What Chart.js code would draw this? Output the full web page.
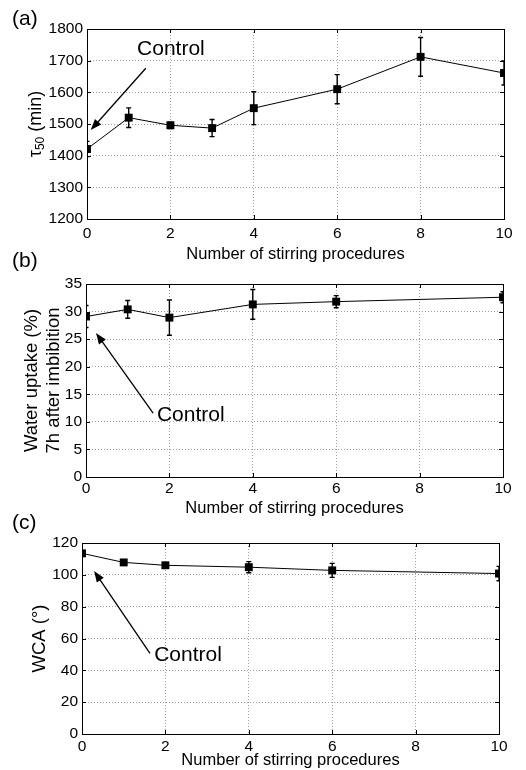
<!DOCTYPE html>
<html>
<head>
<meta charset="utf-8">
<script src="https://cdn.jsdelivr.net/npm/chart.js@4.4.1/dist/chart.umd.min.js"></script>
<style>
  html, body { margin: 0; padding: 0; background: #fff; }
  #wrap { position: relative; width: 526px; height: 770px; }
  .pane { position: absolute; left: 0; width: 526px; }
</style>
</head>
<body>
<div id="wrap">
  <div class="pane" style="top:0px"><canvas id="chartA" width="526" height="270"></canvas></div>
  <div class="pane" style="top:245px"><canvas id="chartB" width="526" height="275"></canvas></div>
  <div class="pane" style="top:505px"><canvas id="chartC" width="526" height="265"></canvas></div>
</div>
<script>
// (a) germination time tau50
const stirA = [0, 1, 2, 3, 4, 6, 8, 10];
const tau50 = [1421, 1520, 1496, 1487, 1550, 1610, 1712, 1661];
const tau50Err = [24, 31, 10, 27, 52, 46, 61, 38];

// (b) water uptake 7h after imbibition
const stirB = [0, 1, 2, 4, 6, 10];
const uptake = [29.1, 30.4, 28.9, 31.3, 31.8, 32.6];
const uptakeErr = [2.0, 1.6, 3.2, 2.7, 1.1, 1.0];

// (c) water contact angle
const stirC = [0, 1, 2, 4, 6, 10];
const wca = [113.5, 107.8, 106, 104.8, 102.8, 100.8];
const wcaErr = [1.5, 1.5, 1.2, 3.5, 4.4, 4.5];

const xTitle = 'Number of stirring procedures';
const FONT = "'Liberation Sans', Arial, Helvetica, sans-serif";

// error bars, drawn under the markers
const errorBars = {
  id: 'errorBars',
  beforeDatasetsDraw(chart, args, opts) {
    const { ctx, chartArea: a, scales: { x, y } } = chart;
    ctx.save();
    ctx.beginPath();
    ctx.rect(a.left, a.top, a.right - a.left, a.bottom - a.top);
    ctx.clip();
    ctx.strokeStyle = '#000';
    ctx.lineWidth = 1.4;
    opts.xs.forEach((xv, i) => {
      const px = x.getPixelForValue(xv);
      const lo = y.getPixelForValue(opts.ys[i] - opts.errs[i]);
      const hi = y.getPixelForValue(opts.ys[i] + opts.errs[i]);
      ctx.beginPath();
      ctx.moveTo(px, lo); ctx.lineTo(px, hi);
      ctx.moveTo(px - 2.5, lo); ctx.lineTo(px + 2.5, lo);
      ctx.moveTo(px - 2.5, hi); ctx.lineTo(px + 2.5, hi);
      ctx.stroke();
    });
    ctx.restore();
  }
};

// box frame with inward ticks, "Control" arrow, panel letter
const decor = {
  id: 'decor',
  afterDatasetsDraw(chart, args, opts) {
    const { ctx, chartArea: a, scales: { x, y } } = chart;
    ctx.save();
    ctx.strokeStyle = '#000';
    ctx.lineWidth = 1;
    ctx.strokeRect(Math.round(a.left) + 0.5, Math.round(a.top) + 0.5,
      Math.round(a.right - a.left), Math.round(a.bottom - a.top));
    ctx.beginPath();
    x.ticks.forEach(t => {
      const p = Math.round(x.getPixelForValue(t.value)) + 0.5;
      ctx.moveTo(p, a.bottom); ctx.lineTo(p, a.bottom - 4);
      ctx.moveTo(p, a.top); ctx.lineTo(p, a.top + 4);
    });
    y.ticks.forEach(t => {
      const p = Math.round(y.getPixelForValue(t.value)) + 0.5;
      ctx.moveTo(a.left, p); ctx.lineTo(a.left + 4, p);
      ctx.moveTo(a.right, p); ctx.lineTo(a.right - 4, p);
    });
    ctx.stroke();

    // arrow
    const x1 = x.getPixelForValue(opts.from[0]), y1 = y.getPixelForValue(opts.from[1]);
    const x2 = x.getPixelForValue(opts.to[0]), y2 = y.getPixelForValue(opts.to[1]);
    const ang = Math.atan2(y2 - y1, x2 - x1);
    const head = 11, half = 4.2;
    ctx.lineWidth = 1.3;
    ctx.beginPath();
    ctx.moveTo(x1, y1);
    ctx.lineTo(x2 - Math.cos(ang) * head * 0.8, y2 - Math.sin(ang) * head * 0.8);
    ctx.stroke();
    ctx.fillStyle = '#000';
    ctx.beginPath();
    ctx.moveTo(x2, y2);
    ctx.lineTo(x2 - Math.cos(ang) * head - Math.sin(ang) * half, y2 - Math.sin(ang) * head + Math.cos(ang) * half);
    ctx.lineTo(x2 - Math.cos(ang) * head + Math.sin(ang) * half, y2 - Math.sin(ang) * head - Math.cos(ang) * half);
    ctx.closePath();
    ctx.fill();

    ctx.font = '21px ' + FONT;
    ctx.textAlign = 'left';
    ctx.textBaseline = 'middle';
    ctx.fillText('Control', x.getPixelForValue(opts.text[0]), y.getPixelForValue(opts.text[1]));

    ctx.fillText(opts.letter, 12, opts.letterY);

    // y title with real subscript (panel a only)
    if (opts.tauTitle) {
      const cy = (a.top + a.bottom) / 2;
      ctx.translate(35, cy);
      ctx.rotate(-Math.PI / 2);
      ctx.textBaseline = 'alphabetic';
      ctx.font = '18px ' + FONT;
      const w1 = ctx.measureText('τ').width;
      const w3 = ctx.measureText(' (min)').width;
      ctx.font = '12px ' + FONT;
      const w2 = ctx.measureText('50').width;
      let sx = -(w1 + w2 + w3) / 2;
      ctx.font = '18px ' + FONT;
      ctx.fillText('τ', sx, 6);
      ctx.font = '12px ' + FONT;
      ctx.fillText('50', sx + w1, 9);
      ctx.font = '18px ' + FONT;
      ctx.fillText(' (min)', sx + w1 + w2, 6);
    }
    ctx.restore();
  }
};

function makePanel(id, p) {
  return new Chart(document.getElementById(id), {
    type: 'line',
    data: {
      datasets: [{
        data: p.xs.map((v, i) => ({ x: v, y: p.ys[i] })),
        borderColor: '#000',
        borderWidth: 1,
        backgroundColor: '#000',
        pointStyle: 'rect',
        pointRadius: 5.6,
        pointBorderWidth: 0,
        pointBackgroundColor: '#000',
        tension: 0,
        clip: 0
      }]
    },
    plugins: [errorBars, decor],
    options: {
      responsive: false,
      animation: false,
      events: [],
      layout: { padding: { top: p.top, right: 526 - p.right, left: 0, bottom: p.padBottom } },
      plugins: {
        legend: { display: false },
        tooltip: { enabled: false },
        errorBars: { xs: p.xs, ys: p.ys, errs: p.errs },
        decor: { from: p.from, to: p.to, text: p.text, letter: p.letter, letterY: p.letterY, tauTitle: p.tauTitle }
      },
      scales: {
        x: {
          type: 'linear',
          min: 0, max: 10,
          afterFit: s => { s.height = p.xAxisH; },
          ticks: { stepSize: 2, padding: p.xTickPad, color: '#000', font: { family: FONT, size: 15.5 }, maxRotation: 0,
                   callback: v => String(v) },
          grid: { color: '#a0a0a0', lineWidth: 1, drawTicks: false },
          border: { display: false, dash: [1, 2] },
          title: { display: true, text: xTitle, color: '#000', font: { family: FONT, size: 16.5 }, padding: 0 }
        },
        y: {
          min: p.yMin, max: p.yMax,
          afterFit: s => { s.width = p.left; },
          ticks: { stepSize: p.yStep, padding: 4, color: '#000', font: { family: FONT, size: 15.5 },
                   callback: v => String(v) },
          grid: { color: '#a0a0a0', lineWidth: 1, drawTicks: false },
          border: { display: false, dash: [1, 2] },
          title: {
            display: !p.tauTitle, text: p.yTitle, color: '#000',
            font: { family: FONT, size: p.yTitleSize, lineHeight: p.yTitleLH },
            padding: { top: p.yTitlePad, bottom: 0 }
          }
        }
      }
    }
  });
}

makePanel('chartA', {
  xs: stirA, ys: tau50, errs: tau50Err,
  yMin: 1200, yMax: 1800, yStep: 100,
  left: 87, right: 504, top: 29, xAxisH: 45.6, padBottom: 5.4, xTickPad: 5,
  tauTitle: true, yTitle: '', yTitleSize: 17, yTitleLH: 1.2, yTitlePad: 0,
  text: [1.2, 1735], from: [1.41, 1676], to: [0.09, 1481],
  letter: '(a)', letterY: 19.5
});

makePanel('chartB', {
  xs: stirB, ys: uptake, errs: uptakeErr,
  yMin: 0, yMax: 35, yStep: 5,
  left: 86, right: 503, top: 39, xAxisH: 41.6, padBottom: 1.4, xTickPad: 2,
  tauTitle: false, yTitle: ['Water uptake (%)', '7h after imbibition'],
  yTitleSize: 18.5, yTitleLH: 1.17, yTitlePad: 21,
  text: [1.7, 11.2], from: [1.61, 11.6], to: [0.24, 26.1],
  letter: '(b)', letterY: 16
});

makePanel('chartC', {
  xs: stirC, ys: wca, errs: wcaErr,
  yMin: 0, yMax: 120, yStep: 20,
  left: 82, right: 499, top: 38, xAxisH: 36, padBottom: 0, xTickPad: 3.7,
  tauTitle: false, yTitle: 'WCA (°)', yTitleSize: 18.5, yTitleLH: 1.2, yTitlePad: 29,
  text: [1.73, 49.6], from: [1.63, 50.7], to: [0.29, 102.4],
  letter: '(c)', letterY: 18
});
</script>
</body>
</html>
